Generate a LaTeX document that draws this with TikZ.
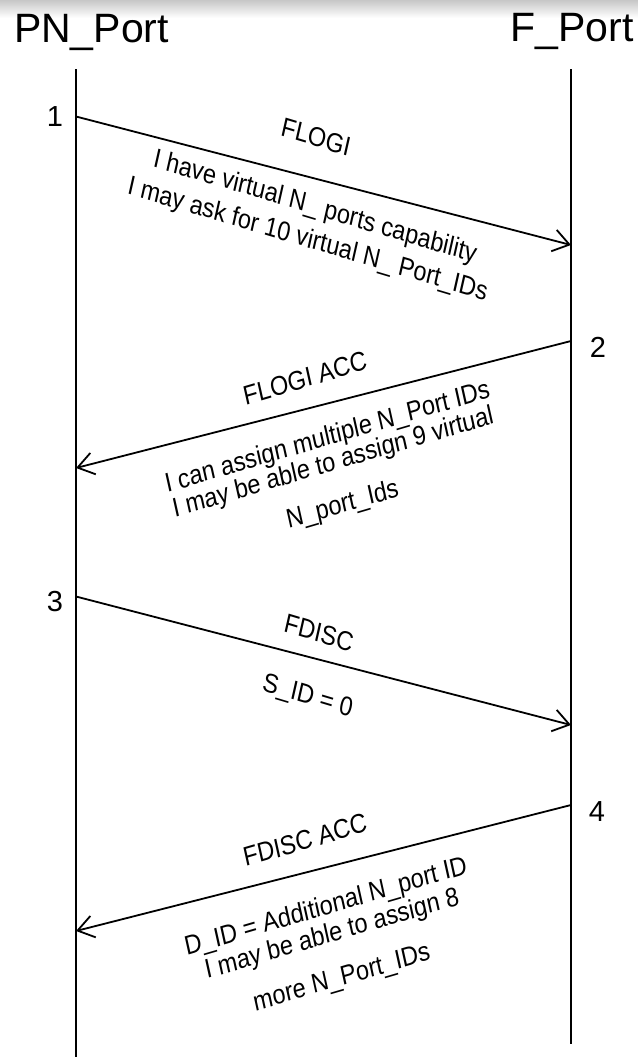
\documentclass[tikz,border=0pt]{standalone}
\usepackage{fontspec}
\setmainfont{Liberation Sans}
\usetikzlibrary{arrows.meta}

\begin{document}
\begin{tikzpicture}[
    x=0.5pt, y=-0.5pt,
    lifeline/.style={line width=1pt},
    msg/.style={line width=0.9pt,-{Straight Barb[length=8pt,width=11pt]}},
    port/.style={anchor=base,inner sep=0pt,font=\fontsize{20.5pt}{24pt}\selectfont},
    num/.style={inner sep=0pt,font=\fontsize{14.5pt}{17pt}\selectfont},
    note/.style={align=center,inner sep=0pt,font=\fontsize{13.5pt}{16.85pt}\selectfont},
    down/.style={xscale=0.87,rotate=-14.55},
    up/.style={xscale=0.87,rotate=#1}
]
\useasboundingbox (0,0) rectangle (638,1057);
\shade[top color=black!22,bottom color=white] (0,0) rectangle (638,18);

% the two ports and their lifelines
\node[port] (pn) at (91.5,42) {PN\_Port};
\node[port] (fp) at (572,41) {F\_Port};
\coordinate (pn top) at (76,69);
\coordinate (pn bot) at (76,1057);
\coordinate (f top) at (571,69);
\coordinate (f bot) at (571,1044);
\draw[lifeline] (pn top) -- (pn bot);
\draw[lifeline] (f top) -- (f bot);

% message ends
\coordinate (pn1) at (76,116.5);
\coordinate (f1) at (571,245);
\coordinate (f2) at (571,341);
\coordinate (pn2) at (76,468);
\coordinate (pn3) at (76,596.5);
\coordinate (f3) at (571,725);
\coordinate (f4) at (571,805);
\coordinate (pn4) at (76,931);

\node[num] (n1) at (55,116.5) {1};
\node[num] (n2) at (598,347) {2};
\node[num] (n3) at (55,602) {3};
\node[num] (n4) at (597,812) {4};

\draw[msg] (pn1) -- (f1);
\draw[msg] (f2) -- (pn2);
\draw[msg] (pn3) -- (f3);
\draw[msg] (f4) -- (pn4);

% labels
\node[note,down] (flogi) at (316,137) {FLOGI};
\node[note,down] (flogi txt) at (311.3,224.1) {I have virtual N\_ ports capability\\I may ask for 10 virtual N\_ Port\_IDs};
\node[note,up=14.4] (flogi acc) at (305,378) {FLOGI ACC};
\node[note,up=14.4,font=\fontsize{13.5pt}{13.1pt}\selectfont] (acc txt) at (335.2,471.9) {I can assign multiple N\_Port IDs\\I may be able to assign 9 virtual\\[8.6pt]N\_port\_Ids};
\node[note,down] (fdisc) at (319,633) {FDISC};
\node[note,down] (sid) at (307.5,697) {S\_ID = 0};
\node[note,up=14.3] (fdisc acc) at (305,840) {FDISC ACC};
\node[note,up=14.3,font=\fontsize{13.5pt}{14pt}\selectfont] (did) at (334,943) {D\_ID = Additional N\_port ID\\I may be able to assign 8\\[8.5pt]more N\_Port\_IDs};
\end{tikzpicture}
\end{document}
